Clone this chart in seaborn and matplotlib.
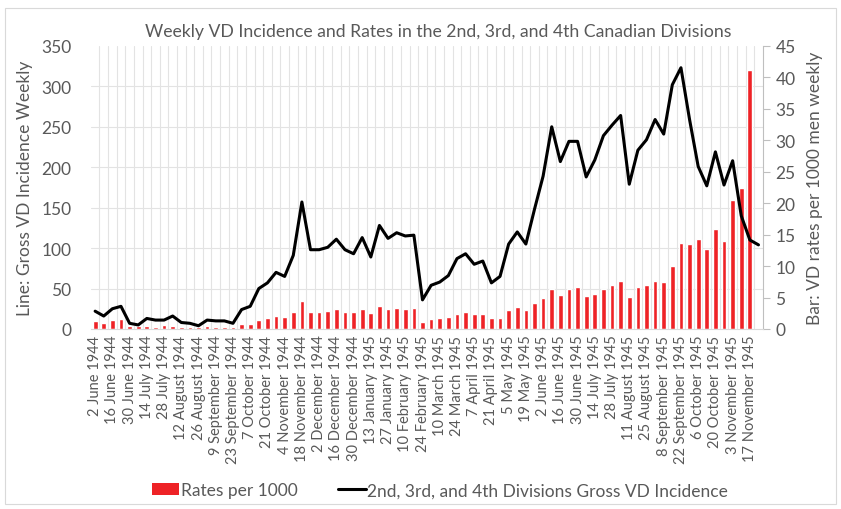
import numpy as np
import pandas as pd
import matplotlib
matplotlib.use("Agg")
import matplotlib.pyplot as plt
from matplotlib.patches import Patch, Rectangle
from matplotlib.lines import Line2D
import seaborn as sns

# tick labels (every second week), as printed on the chart
tick_labels = ["2 June 1944", "16 June 1944", "30 June 1944", "14 July 1944", "28 July 1944",
               "12 August 1944", "26 August 1944", "9 September 1944", "23 September 1944",
               "7 October 1944", "21 October 1944", "4 November 1944", "18 November 1944",
               "2 December 1944", "16 December 1944", "30 December 1944", "13 January 1945",
               "27 January 1945", "10 February 1945", "24 February 1945", "10 March 1945",
               "24 March 1945", "7 April 1945", "21 April 1945", "5 May 1945", "19 May 1945",
               "2 June 1945", "16 June 1945", "30 June 1945", "14 July 1945", "28 July 1945",
               "11 August 1945", "25 August 1945", "8 September 1945", "22 September 1945",
               "6 October 1945", "20 October 1945", "3 November 1945", "17 November 1945"]

# gross VD incidence (line, left axis), one value per week
incidence = [22, 16, 25, 28, 7, 5, 13, 11, 11, 16,
             8, 7, 4, 11, 10, 10, 7, 24, 28, 50,
             57, 70, 65, 91, 157, 98, 98, 101, 111, 98,
             93, 113, 89, 128, 112, 119, 115, 116, 36, 54,
             58, 66, 87, 93, 80, 84, 57, 65, 105, 120,
             105, 148, 189, 250, 207, 232, 232, 188, 209, 239,
             252, 264, 179, 221, 234, 259, 241, 302, 323, 259,
             201, 177, 219, 178, 208, 140, 110, 104]

# rates per 1000 men (bars, right axis); last week has no bar
rates = [1.3, 0.95, 1.4, 1.6, 0.5, 0.4, 0.5, 0.3, 0.65, 0.5,
         0.3, 0.3, 0.25, 0.5, 0.3, 0.3, 0.3, 0.75, 0.85, 1.5,
         1.7, 2.0, 1.9, 2.75, 4.45, 2.75, 2.75, 2.85, 3.2, 2.75,
         2.65, 3.2, 2.55, 3.6, 3.2, 3.4, 3.2, 3.3, 1.05, 1.6,
         1.7, 1.9, 2.4, 2.65, 2.35, 2.35, 1.7, 1.8, 2.95, 3.5,
         3.05, 4.15, 5.0, 6.35, 5.4, 6.35, 6.6, 5.2, 5.5, 6.3,
         7.05, 7.55, 5.15, 6.6, 7.05, 7.7, 7.45, 9.95, 13.65, 13.55,
         14.3, 12.7, 15.9, 14.0, 20.5, 22.4, 41.1, np.nan]

title = "Weekly VD Incidence and Rates in the 2nd, 3rd, and 4th Canadian Divisions"
bar_name = "Rates per 1000"
line_name = "2nd, 3rd, and 4th Divisions Gross VD Incidence"

sns.set_style("white")
plt.rcParams['font.family'] = ['Lato', 'DejaVu Sans']
txt = '#595959'
grid_c = '#e3e3e3'
red = '#EE2226'

n = len(incidence)
df = pd.DataFrame({"week": np.arange(n), "rate": rates, "count": incidence})

fig = plt.figure(figsize=(8.41, 5.10), dpi=100)
fig.patches.append(Rectangle((0.006, 0.01), 0.988, 0.972, transform=fig.transFigure,
                             fill=False, edgecolor='#d9d9d9', lw=0.8))

ax = fig.add_axes([0.108, 0.353, 0.799, 0.555])
sns.barplot(data=df, x="week", y="rate", color=red,
            saturation=1, width=0.55, ax=ax, zorder=2)
ax.set_ylim(0, 45)
ax.set_yticks(range(0, 46, 5))
ax.set_xticks(range(0, n, 2))
ax.set_xticklabels(tick_labels, rotation=90)
ax.set_xticks(np.arange(0.5, n - 1, 1), minor=True)
ax.set_yticks(np.arange(50, 351, 50) * 45 / 350, minor=True)
ax.grid(which='minor', axis='both', color=grid_c, lw=0.8)
ax.set_axisbelow(True)
for s in ['top', 'left']:
    ax.spines[s].set_visible(False)
ax.spines['right'].set_color('#bfbfbf')
ax.spines['bottom'].set_color('#d9d9d9')
ax.set_xlabel("")

ax2 = ax.twinx()
sns.lineplot(x=df["week"], y=df["count"], color='black', lw=2.2, ax=ax2, zorder=3)
ax2.set_ylim(0, 350)
ax2.set_yticks(range(0, 351, 50))
ax2.yaxis.tick_left()
ax2.yaxis.set_label_position("left")
ax2.tick_params(axis='y', length=0, labelsize=12.5, labelcolor=txt, pad=14)
for s in ax2.spines.values():
    s.set_visible(False)
ax2.set_ylabel("Line: Gross VD Incidence Weekly", color=txt, fontsize=12.5, labelpad=6)
ax2.set_xlabel("")

# bar axis on the right (twinx moves it, so set it afterwards)
ax.yaxis.tick_right()
ax.yaxis.set_label_position("right")
ax.tick_params(axis='x', which='both', length=0, labelsize=10.5, labelcolor=txt, pad=4)
ax.tick_params(axis='y', which='major', length=5, color='#bfbfbf', labelsize=12.5,
               labelcolor=txt, pad=4, left=False, right=True)
ax.tick_params(axis='y', which='minor', length=0, left=False, right=False)
ax.set_ylabel("Bar: VD rates per 1000 men weekly", color=txt, fontsize=12.5, labelpad=8)
ax.set_xlim(-0.5, n - 0.5)

fig.text(0.521, 0.937, title, ha='center', va='center', color=txt, fontsize=12.7)

handles = [Patch(facecolor=red, edgecolor='none'),
           Line2D([0], [0], color='black', lw=2.2)]
fig.legend(handles, [bar_name, line_name], loc='center', bbox_to_anchor=(0.523, 0.037),
           ncol=2, frameon=False, fontsize=12.5, labelcolor=txt, handlelength=1.6,
           handletextpad=0.1, columnspacing=2.3)

fig.savefig("out.png", dpi=100)
